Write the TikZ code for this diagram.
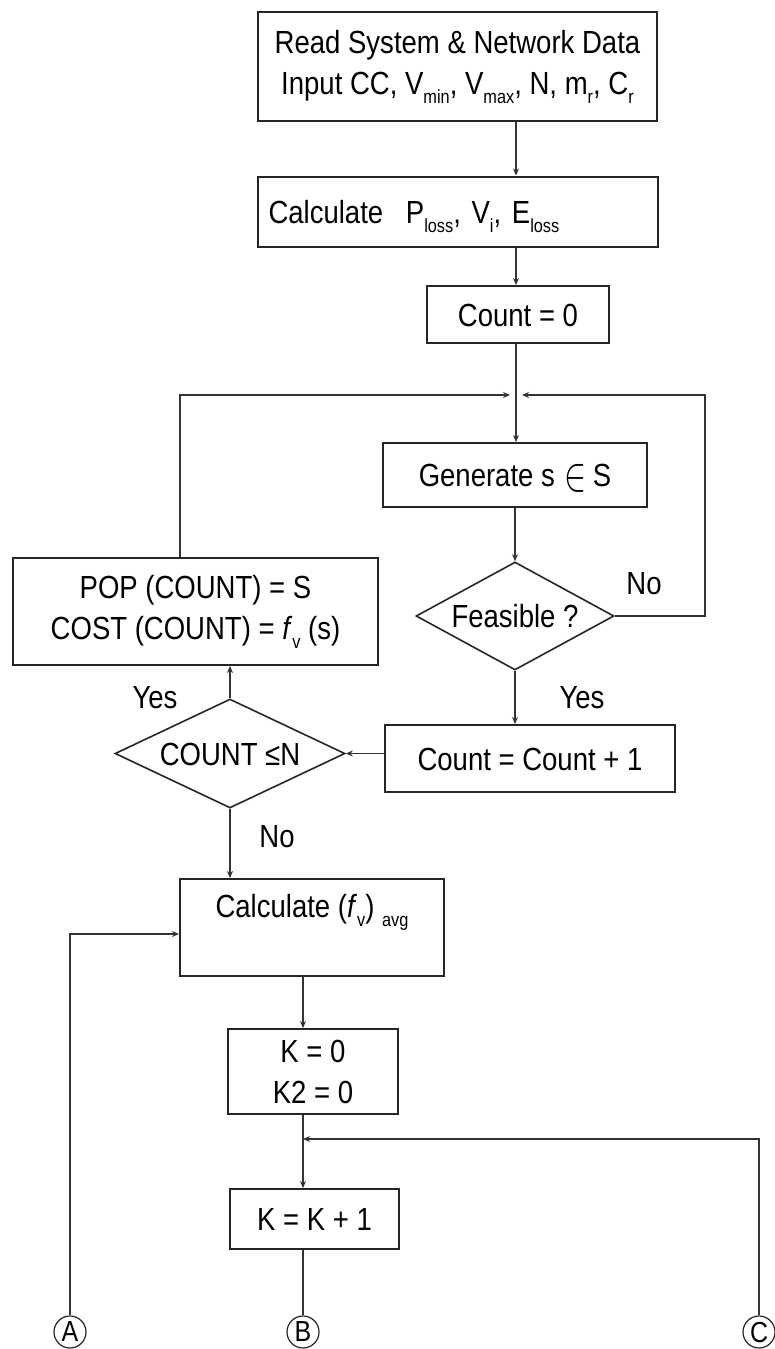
\documentclass[tikz,border=0pt]{standalone}
\usepackage{graphicx}
\usepackage{fontspec}
\setmainfont{Liberation Sans}[FakeStretch=0.86]
\usetikzlibrary{arrows.meta,shapes.geometric}
\newcommand\mainsize{\fontsize{32}{41}\selectfont}
\newcommand\sbs[1]{\raisebox{-9pt}{\fontsize{19}{19}\selectfont #1}}
\begin{document}
\begin{tikzpicture}[x=1pt,y=-1pt,
  font=\mainsize,
  boxbase/.style={draw=black!85, line width=2pt, inner sep=0pt, align=center},
  box/.style={boxbase, text height=23pt, text depth=0pt},
  decision/.style={diamond, draw=black!85, line width=1.6pt, inner sep=0pt,
    text height=23pt, text depth=0pt},
  conn/.style={draw=black!80, line width=1.1pt},
  arr/.style={conn, -{Stealth[length=7pt,width=6pt]}},
  lbl/.style={anchor=base, inner sep=0pt},
  connector/.style={circle, draw=black!85, line width=1.2pt, minimum size=32pt,
    inner sep=0pt, font=\fontsize{29}{29}\selectfont}]
\useasboundingbox (0,0) rectangle (775,1349);

% process boxes
\node[boxbase, minimum width=399pt, minimum height=109pt] (read) at (457.5,66.5)
  {Read System \& Network Data\\Input CC, V\sbs{min}, V\sbs{max}, N, m\sbs{r}, C\sbs{r}};
\node[box, minimum width=400pt, minimum height=70pt, text width=378pt, align=left] (calc1) at (457.5,211.5)
  {Calculate\hspace{12pt} P\sbs{loss}, V\sbs{i}, E\sbs{loss}};
\node[box, minimum width=182pt, minimum height=57pt] (count0) at (518,314.5) {Count = 0};
\coordinate (j1) at (516,395);
\node[box, minimum width=264pt, minimum height=64pt] (gen) at (515,475)
  {Generate s\hspace{10pt}\raisebox{-4pt}{\resizebox{22pt}{26pt}{$\in$}}\hspace{6pt}S};
\node[decision, minimum width=198pt, minimum height=108pt, aspect=1.83] (feas) at (515,616) {Feasible ?};
\node[box, minimum width=290pt, minimum height=67pt] (inc) at (530,758.5) {Count = Count + 1};
\node[decision, minimum width=230pt, minimum height=109pt, aspect=2.1] (cnt) at (230,753.5) {COUNT ≤N};
\node[boxbase, minimum width=365pt, minimum height=107pt] (pop) at (195.5,611.5)
  {POP (COUNT) = S\\COST (COUNT) = \textit{f}\sbs{v} (s)};
\node[box, anchor=north, minimum width=264pt, text height=38pt, text depth=59pt] (avg) at (312,878)
  {Calculate (\textit{f}\sbs{v}) \sbs{avg}};
\node[boxbase, minimum width=170pt, minimum height=85pt] (k0) at (313,1071.5) {K = 0\\K2 = 0};
\coordinate (j2) at (303,1139);
\node[box, minimum width=169pt, minimum height=60pt] (kinc) at (314.5,1219) {K = K + 1};

% off-page connectors
\node[connector] (A) at (70,1332) {A};
\node[connector] (B) at (303,1332) {B};
\node[connector] (C) at (759,1332) {C};

% loop corners
\coordinate (pl) at (180,395);
\coordinate (pr) at (705,395);
\coordinate (al) at (70,934);
\coordinate (cr) at (759,1139);

% main flow
\draw[arr] (read.south -| j1) -- (calc1.north -| j1);
\draw[arr] (calc1.south -| j1) -- (count0.north -| j1);
\draw[arr] (count0.south -| j1) -- (gen.north -| j1);
\draw[arr] (gen.south) -- (feas.north);
\draw[arr] (feas.south) -- (inc.north -| feas.south);
\draw[arr] (inc.west |- cnt.east) -- (cnt.east);
\draw[arr] (cnt.north) -- (cnt.north |- pop.south);
\draw[arr] (cnt.south) -- (avg.north -| cnt.south);
\draw[arr, shorten >=6pt] (pop.north -| pl) -- (pl) -- (j1);
\draw[arr, shorten >=6pt] (feas.east) -- (feas.east -| pr) -- (pr) -- (j1);
\draw[arr] (avg.south -| j2) -- (k0.north -| j2);
\draw[arr] (k0.south -| j2) -- (kinc.north -| j2);
\draw[arr] (C.north) -- (cr) -- (j2);
\draw[arr] (A.north) -- (al) -- (al -| avg.west);
\draw[conn] (kinc.south -| B) -- (B.north);

% branch labels
\node[lbl] (no1) at (644,594) {No};
\node[lbl] (yes1) at (582,708) {Yes};
\node[lbl] (yes2) at (155,708) {Yes};
\node[lbl] (no2) at (277,847) {No};
\end{tikzpicture}
\end{document}
